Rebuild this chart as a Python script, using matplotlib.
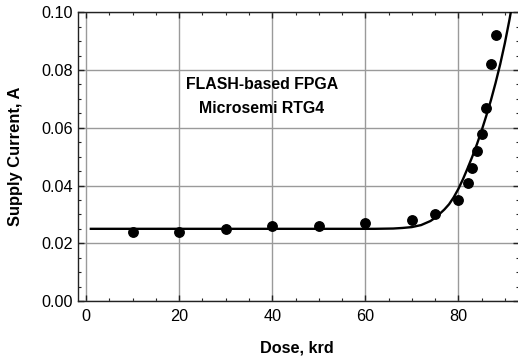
import matplotlib
matplotlib.use("Agg")
import matplotlib.pyplot as plt
from matplotlib.ticker import MultipleLocator, FormatStrFormatter

plt.rcParams['font.family'] = ['Liberation Sans', 'DejaVu Sans']

# Measured data points
dose = [10, 20, 30, 40, 50, 60, 70, 75, 80, 82, 83, 84, 85, 86, 87, 88]
current = [0.024, 0.024, 0.025, 0.026, 0.026, 0.027, 0.028, 0.030, 0.035,
           0.041, 0.046, 0.052, 0.058, 0.067, 0.082, 0.092]

# Fit curve
fit_dose = [1, 62, 66, 68, 70, 72, 74, 75, 76, 77, 78, 79, 80, 81, 82, 83, 84,
            85, 86, 87, 88, 89, 90, 91, 91.5]
fit_current = [0.025, 0.025, 0.0251, 0.0253, 0.0256, 0.0263, 0.0277, 0.0288,
               0.0302, 0.0317, 0.0335, 0.0359, 0.0388, 0.0422, 0.0460, 0.0500,
               0.0543, 0.0590, 0.0641, 0.0695, 0.0755, 0.0820, 0.0893, 0.0975,
               0.102]

annotation = "FLASH-based FPGA\nMicrosemi RTG4"
xlabel = "Dose, krd"
ylabel = "Supply Current, A"

W, H = 518, 356
fig = plt.figure(figsize=(W / 100, H / 100), dpi=100)
left, right, top, bottom = 78.3, 518.8, 12.3, 301.0
ax = fig.add_axes([left / W, 1 - bottom / H, (right - left) / W, (bottom - top) / H])

ax.set_xlim(-1.7, 93)
ax.set_ylim(0, 0.10)

ax.grid(True, which='major', color='#9a9a9a', linewidth=1.0)
ax.set_axisbelow(True)

ax.plot(fit_dose, fit_current, color='black', linewidth=1.7, zorder=3, clip_on=True)
ax.plot(dose, current, 'o', color='black', markersize=6.8, zorder=4)

ax.xaxis.set_major_locator(MultipleLocator(20))
ax.xaxis.set_minor_locator(MultipleLocator(5))
ax.yaxis.set_major_locator(MultipleLocator(0.02))
ax.yaxis.set_minor_locator(MultipleLocator(0.005))
ax.yaxis.set_major_formatter(FormatStrFormatter('%.2f'))

ax.tick_params(which='both', direction='in', top=True, right=True,
               labelsize=11.7, colors='#222222', labelcolor='black')
ax.tick_params(which='major', length=4, width=1)
ax.tick_params(which='minor', length=2.5, width=0.8)
ax.tick_params(axis='x', pad=6)
ax.tick_params(axis='y', pad=4)

for s in ax.spines.values():
    s.set_color('#222222')
    s.set_linewidth(1.0)

ax.set_xlabel(xlabel, fontsize=11.7, fontweight='bold')
ax.set_ylabel(ylabel, fontsize=11.9, fontweight='bold')
ax.xaxis.set_label_coords(0.497, -0.138)
ax.yaxis.set_label_coords(-0.125, 0.5)

ax.text(37.8, 0.0707, annotation, ha='center', va='center', fontsize=11.4,
        fontweight='bold', linespacing=1.75, zorder=5)

fig.savefig("out.png", dpi=100)
